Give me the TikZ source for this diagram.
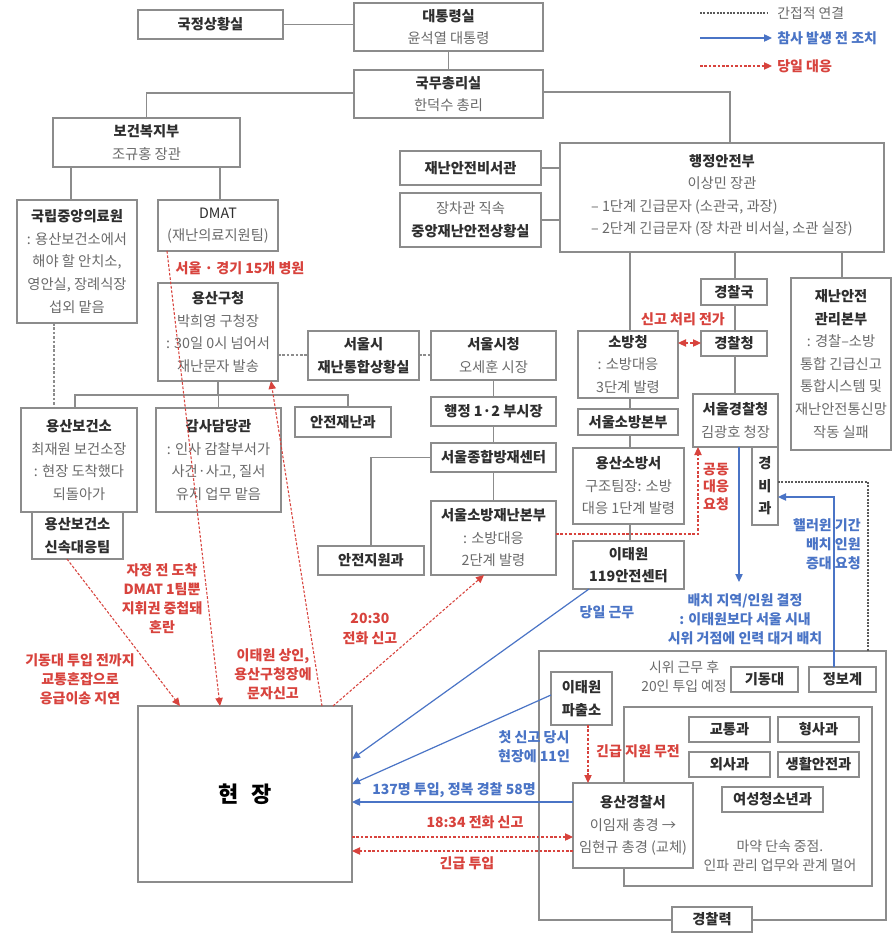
\documentclass[tikz,border=0pt]{standalone}
\usepackage{fontspec}
\setmainfont{Noto Sans CJK KR}
\usetikzlibrary{arrows.meta}
\definecolor{bgray}{HTML}{8C8C8C}
\definecolor{tcol}{HTML}{2E2E2E}
\definecolor{scol}{HTML}{6A6A6A}
\definecolor{rcol}{HTML}{D8433D}
\definecolor{bcol}{HTML}{4A74C6}
\newcommand\ti[1]{{\bfseries\color{tcol}#1}}
\newcommand\ts[1]{{\color{scol}#1}}
\tikzset{
  bx/.style={draw=bgray, line width=0.9pt, fill=white, inner sep=0pt, outer sep=0pt, align=center, text=tcol, font=\fontsize{10.7}{16.9}\selectfont},
  conn/.style={draw=bgray, line width=0.8pt},
  gdash/.style={draw=bgray, line width=0.8pt, dash pattern=on 2pt off 1.3pt},
  gdot/.style={draw=black!65, line width=0.8pt, dash pattern=on 1.5pt off 1pt},
  rdash/.style={draw=rcol, line width=0.8pt, dash pattern=on 2pt off 1.3pt},
  rarr/.style={rdash, -{Triangle[length=6pt,width=5.5pt]}},
  barr/.style={draw=bcol, line width=0.9pt, -{Triangle[length=6pt,width=5.5pt]}},
  rlab/.style={text=rcol, font=\fontsize{10.5}{14.3}\selectfont\bfseries, align=center, inner sep=0pt},
  blab/.style={text=bcol, font=\fontsize{10.5}{14.3}\selectfont\bfseries, align=center, inner sep=0pt},
  gtext/.style={text=scol, font=\fontsize{10.4}{14.3}\selectfont, align=center, inner sep=0pt},
}
\newcommand\bx[6]{\node[bx, minimum width={(#4-#2)*0.75pt}, minimum height={(#5-#3)*0.75pt}] (#1) at ({(#2+#4)/2},{(#3+#5)/2}) {#6};}
\begin{document}
\begin{tikzpicture}[x=0.75pt,y=-0.75pt]
\useasboundingbox (0,0) rectangle (895,937);
\fill[white] (0,0) rectangle (895,937);

% ---------- legend ----------
\coordinate (lg1a) at (700,13); \coordinate (lg1b) at (768,13);
\coordinate (lg2a) at (700,38); \coordinate (lg2b) at (772,38);
\coordinate (lg3a) at (700,66); \coordinate (lg3b) at (772,66);
\draw[gdot] (lg1a) -- (lg1b);
\draw[barr] (lg2a) -- (lg2b);
\draw[rarr] (lg3a) -- (lg3b);
\node[gtext, anchor=west] (lt1) at (777,13) {간접적 연결};
\node[blab, anchor=west] (lt2) at (777,38) {참사 발생 전 조치};
\node[rlab, anchor=west] (lt3) at (777,66) {당일 대응};

% ---------- police force frame ----------
\bx{outer}{539}{651}{886}{920}{}
\bx{inner}{624}{707}{872}{886}{}
\bx{pforce}{672}{907}{752}{932}{\ti{경찰력}}

% ---------- boxes ----------
\bx{sit}{138}{10}{283}{39}{\ti{국정상황실}}
\bx{pres}{354}{3}{543}{51}{\ti{대통령실}\\\ts{윤석열 대통령}}
\bx{pm}{354}{70}{543}{118}{\ti{국무총리실}\\\ts{한덕수 총리}}
\bx{mohw}{53}{118}{240}{167}{\ti{보건복지부}\\\ts{조규홍 장관}}
\bx{nmc}{17}{200}{137}{323}{\ti{국립중앙의료원}\\\ts{: 용산보건소에서}\\\ts{해야 할 안치소,}\\\ts{영안실, 장례식장}\\\ts{섭외 맡음}}
\bx{dmat}{158}{200}{278}{251}{{\color{tcol}DMAT}\\\ts{(재난의료지원팀)}}
\bx{ysgu}{158}{283}{278}{381}{\ti{용산구청}\\\ts{박희영 구청장}\\\ts{: 30일 0시 넘어서}\\\ts{재난문자 발송}}
\bx{sdis}{308}{331}{419}{380}{\ti{서울시}\\\ti{재난통합상황실}}
\bx{scity}{431}{331}{556}{380}{\ti{서울시청}\\\ts{오세훈 시장}}
\bx{vmayor}{431}{397}{556}{426}{\ti{행정 1·2 부시장}}
\bx{sdc}{431}{443}{556}{472}{\ti{서울종합방재센터}}
\bx{sfire}{431}{501}{556}{575}{\ti{서울소방재난본부}\\\ts{: 소방대응}\\\ts{2단계 발령}}
\bx{safety}{318}{546}{424}{575}{\ti{안전지원과}}
\bx{rrt}{32}{512}{123}{559}{\ti{용산보건소}\\\ti{신속대응팀}}
\bx{yshc}{21}{408}{137}{512}{\ti{용산보건소}\\\ts{최재원 보건소장}\\\ts{: 현장 도착했다}\\\ts{되돌아가}}
\bx{audit}{156}{408}{281}{512}{\ti{감사담당관}\\\ts{: 인사 감찰부서가}\\\ts{사건·사고, 질서}\\\ts{유지 업무 맡음}}
\bx{sdept}{295}{407}{391}{437}{\ti{안전재난과}}
\bx{sec}{400}{151}{541}{185}{\ti{재난안전비서관}}
\bx{csit}{400}{193}{541}{247}{\ts{장차관 직속}\\\ti{중앙재난안전상황실}}
\bx{mois}{560}{143}{884}{252}{\ti{행정안전부}\\\ts{이상민 장관}\\\ts{\begin{tabular}[t]{@{}l@{}}– 1단계 긴급문자 (소관국, 과장)\\– 2단계 긴급문자 (장 차관 비서실, 소관 실장)\end{tabular}}}
\bx{pol}{701}{279}{767}{305}{\ti{경찰국}}
\bx{drm}{791}{278}{891}{450}{\ti{재난안전}\\\ti{관리본부}\\\ts{: 경찰–소방}\\\ts{통합 긴급신고}\\\ts{통합시스템 및}\\\ts{재난안전통신망}\\\ts{작동 실패}}
\bx{fire}{578}{331}{678}{398}{\ti{소방청}\\\ts{: 소방대응}\\\ts{3단계 발령}}
\bx{npa}{701}{331}{767}{356}{\ti{경찰청}}
\bx{sfhq}{578}{409}{678}{435}{\ti{서울소방본부}}
\bx{ysfire}{573}{448}{684}{524}{\ti{용산소방서}\\\ts{구조팀장: 소방}\\\ts{대응 1단계 발령}}
\bx{itw119}{573}{541}{684}{589}{\ti{이태원}\\\ti{119안전센터}}
\bx{smpa}{693}{394}{778}{447}{\ti{서울경찰청}\\\ts{김광호 청장}}
\bx{guard}{752}{447}{778}{525}{\fontsize{10.7}{14}\selectfont\ti{경}\\\ti{비}\\\ti{과}}
\bx{itwpb}{551}{672}{612}{725}{\ti{이태원}\\\ti{파출소}}
\bx{gdd}{731}{667}{798}{692}{\ti{기동대}}
\bx{info}{809}{667}{876}{692}{\ti{정보계}}
\bx{traffic}{689}{717}{770}{742}{\ti{교통과}}
\bx{crim}{778}{717}{859}{742}{\ti{형사과}}
\bx{fore}{689}{752}{770}{777}{\ti{외사과}}
\bx{life}{778}{752}{859}{777}{\ti{생활안전과}}
\bx{youth}{722}{787}{823}{812}{\ti{여성청소년과}}
\bx{yspol}{573}{783}{693}{868}{\ti{용산경찰서}\\\ts{이임재 총경 →}\\\ts{임현규 총경 (교체)}}
\bx{site}{138}{706}{352}{882}{{\fontsize{16.5}{18}\selectfont\bfseries\color{black}현\hspace{0.55em}장}}

\node[gtext] (lprot) at (684,677) {시위 근무 후\\20인 투입 예정};
\node[gtext] (ldrug) at (780,856) {마약 단속 중점.\\인파 관리 업무와 관계 멀어};

% ---------- solid gray connectors ----------
\draw[conn] (sit.east) -- (sit.east -| pres.west);
\draw[conn] (pres.south) -- (pm.north);
\draw[conn] (pm.west |- 0,93) -| (mohw.north);
\draw[conn] (pm.east |- 0,92) -| (730,0 |- mois.north);
\draw[conn] (sec.east) -- (sec.east -| mois.west);
\draw[conn] (csit.east) -- (csit.east -| mois.west);
\draw[conn] (71,0 |- mohw.south) -- (71,0 |- nmc.north);
\draw[conn] (220,0 |- mohw.south) -- (220,0 |- dmat.north);
\draw[conn] (scity.south) -- (vmayor.north);
\draw[conn] (vmayor.south) -- (sdc.north);
\draw[conn] (sdc.south) -- (sfire.north);
\draw[conn] (sdc.west) -| (safety.north);
\coordinate (bus) at (220,395);
\draw[conn] (ysgu.south) -- (ysgu.south |- bus);
\draw[conn] (75,0 |- yshc.north) |- (bus) -| (348,0 |- sdept.north);
\draw[conn] (audit.north) -- (audit.north |- bus);
\draw[conn] (630,0 |- mois.south) -- (630,0 |- fire.north);
\draw[conn] (630,0 |- fire.south) -- (630,0 |- sfhq.north);
\draw[conn] (630,0 |- sfhq.south) -- (630,0 |- ysfire.north);
\draw[conn] (630,0 |- ysfire.south) -- (630,0 |- itw119.north);
\draw[conn] (735,0 |- mois.south) -- (735,0 |- pol.north);
\draw[conn] (735,0 |- pol.south) -- (735,0 |- npa.north);
\draw[conn] (735,0 |- npa.south) -- (735,0 |- smpa.north);
\draw[conn] (842,0 |- mois.south) -- (842,0 |- drm.north);

% ---------- gray dashed (indirect) ----------
\draw[gdash] (54,0 |- nmc.south) -- (54,0 |- yshc.north);
\draw[gdash] (ysgu.east |- 0,355) -- (sdis.west |- 0,355);
\draw[gdash] (sdis.east |- 0,355) -- (scity.west |- 0,355);
\draw[gdot] (guard.east |- 0,482) -| (868,0 |- outer.north);

% ---------- red dashed (same day) ----------
\draw[rdash, {Triangle[length=6pt,width=5.5pt]}-{Triangle[length=6pt,width=5.5pt]}] (fire.east |- 0,343) -- (npa.west |- 0,343);
\draw[rarr] (sfire.east |- 0,534) -| (698,0 |- smpa.south);
\draw[rarr] (167,0 |- dmat.south) -- (220,0 |- site.north);
\draw[rarr] (67,0 |- rrt.south) -- (180,0 |- site.north);
\draw[rarr] (322,0 |- site.north) -- (271,0 |- ysgu.south);
\draw[rarr] (333,0 |- site.north) -- (484,0 |- sfire.south);
\draw[rarr] (site.east |- 0,837) -- (yspol.west |- 0,837);
\draw[rarr] (yspol.west |- 0,851) -- (site.east |- 0,851);
\draw[rarr] (588,0 |- itwpb.south) -- (588,0 |- yspol.north);

% ---------- blue (before disaster) ----------
\draw[barr] (589,0 |- itw119.south) -- (site.east |- 0,759);
\draw[barr] (itwpb.west |- 0,695) -- (site.east |- 0,784);
\draw[barr] (yspol.west |- 0,802) -- (site.east |- 0,802);
\coordinate (deploy) at (739,582);
\draw[barr] (739,0 |- smpa.south) -- (deploy);
\draw[barr] (834,0 |- info.north) |- (guard.east |- 0,497);

% ---------- labels ----------
\node[rlab] (l15) at (240,268) {서울 · 경기 15개 병원};
\node[rlab] (lmid) at (162,599) {자정 전 도착\\DMAT 1팀뿐\\지휘권 중첩돼\\혼란};
\node[rlab] (ltraf) at (80,679) {기동대 투입 전까지\\교통혼잡으로\\응급이송 지연};
\node[rlab] (lmer) at (273,674) {이태원 상인,\\용산구청장에\\문자신고};
\node[rlab] (l2030) at (370,629) {20:30\\전화 신고};
\node[rlab] (lshift) at (683,319) {신고 처리 전가};
\node[rlab, font=\fontsize{10.5}{12.8}\selectfont\bfseries] (ljoint) at (716,487) {공동\\대응\\요청};
\node[blab] (lday) at (607,612) {당일 근무};
\node[blab] (ldep) at (745,619) {배치 지역/인원 결정\\: 이태원보다 서울 시내\\시위 거점에 인력 대거 배치};
\node[blab, align=right, anchor=east] (lhall) at (861,544) {핼러윈 기간\\배치 인원\\증대 요청};
\node[blab] (lfirst) at (534,747) {첫 신고 당시\\현장에 11인};
\node[blab] (l137) at (454,790) {137명 투입, 정복 경찰 58명};
\node[rlab] (l1834) at (475,822) {18:34 전화 신고};
\node[rlab] (lemerg) at (467,863) {긴급 투입};
\node[rlab] (lradio) at (638,751) {긴급 지원 무전};
\end{tikzpicture}
\end{document}
